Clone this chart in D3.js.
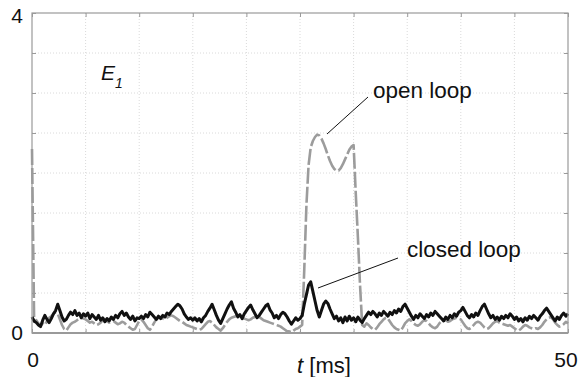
<!DOCTYPE html>
<html>
<head>
<meta charset="utf-8">
<script src="https://cdn.jsdelivr.net/npm/d3@7"></script>
<style>
  html, body { margin: 0; padding: 0; background: #fff; }
  svg { display: block; font-family: "Liberation Sans", Arial, sans-serif; }
</style>
</head>
<body>
<svg id="chart" width="582" height="377"></svg>
<script>
// Time axis: samples every 0.2 ms from 0 to 50 ms
const tStep = 0.2;
const xDomain = [0, 50];
const yDomain = [0, 4];
const xTickLabels = ["0", "50"];
const yTickLabels = ["0", "4"];

// E1 with the closed loop (black trace)
const closedLoop = [
  0.20,0.15,0.13,0.10,0.08,0.16,0.22,0.17,0.13,0.18,0.24,0.28,0.36,0.28,0.20,0.15,0.17,0.22,0.26,0.23,0.28,0.22,0.25,0.19,0.24,
  0.21,0.25,0.18,0.23,0.20,0.17,0.22,0.16,0.19,0.14,0.18,0.15,0.20,0.17,0.22,0.19,0.24,0.27,0.22,0.25,0.20,0.17,0.21,0.15,0.19,
  0.18,0.21,0.18,0.23,0.20,0.26,0.23,0.20,0.17,0.21,0.18,0.22,0.20,0.25,0.23,0.27,0.30,0.33,0.36,0.34,0.30,0.24,0.20,0.17,0.19,
  0.16,0.19,0.15,0.18,0.14,0.19,0.22,0.27,0.31,0.36,0.29,0.22,0.16,0.12,0.18,0.24,0.30,0.35,0.39,0.31,0.26,0.20,0.23,0.18,0.24,
  0.28,0.32,0.35,0.29,0.24,0.19,0.22,0.26,0.30,0.34,0.36,0.29,0.25,0.19,0.22,0.18,0.23,0.26,0.24,0.20,0.15,0.11,0.15,0.19,0.16,
  0.18,0.22,0.36,0.48,0.60,0.64,0.52,0.40,0.28,0.20,0.28,0.36,0.40,0.37,0.30,0.24,0.18,0.21,0.15,0.19,0.13,0.20,0.15,0.21,0.16,
  0.19,0.14,0.20,0.16,0.13,0.18,0.22,0.26,0.23,0.27,0.24,0.20,0.25,0.22,0.27,0.24,0.21,0.26,0.23,0.28,0.25,0.30,0.27,0.33,0.36,
  0.31,0.26,0.21,0.17,0.22,0.19,0.24,0.21,0.18,0.23,0.20,0.25,0.22,0.27,0.24,0.21,0.18,0.15,0.20,0.17,0.22,0.19,0.24,0.21,0.26,
  0.28,0.32,0.27,0.22,0.19,0.23,0.20,0.25,0.22,0.28,0.33,0.36,0.30,0.24,0.19,0.22,0.17,0.20,0.16,0.21,0.18,0.22,0.19,0.24,0.21,
  0.17,0.20,0.15,0.18,0.14,0.19,0.16,0.21,0.18,0.22,0.19,0.16,0.21,0.24,0.28,0.31,0.27,0.23,0.19,0.15,0.20,0.17,0.22,0.25,0.21,0.24
];

// E1 with the open loop (grey dashed trace)
const openLoop = [
  2.30,0.14,0.16,0.12,0.09,0.12,0.10,0.15,0.19,0.21,0.24,0.26,0.24,0.17,0.10,0.05,0.03,0.07,0.11,0.13,0.14,0.16,0.18,0.19,0.18,
  0.17,0.15,0.13,0.14,0.12,0.10,0.11,0.13,0.16,0.17,0.15,0.13,0.14,0.15,0.13,0.11,0.12,0.14,0.13,0.10,0.08,0.06,0.04,0.05,0.10,
  0.15,0.17,0.14,0.10,0.06,0.04,0.08,0.13,0.17,0.19,0.20,0.18,0.17,0.19,0.21,0.22,0.21,0.19,0.17,0.15,0.14,0.12,0.10,0.09,0.08,
  0.07,0.06,0.05,0.04,0.05,0.08,0.11,0.14,0.15,0.13,0.10,0.07,0.05,0.03,0.06,0.10,0.14,0.17,0.19,0.20,0.21,0.22,0.21,0.20,0.18,
  0.17,0.16,0.17,0.19,0.20,0.21,0.20,0.18,0.16,0.15,0.14,0.13,0.12,0.11,0.10,0.09,0.08,0.06,0.04,0.02,0.02,0.01,0.03,0.05,0.06,
  0.08,0.10,0.80,1.60,2.10,2.32,2.40,2.45,2.48,2.47,2.43,2.37,2.30,2.22,2.15,2.09,2.05,2.03,2.03,2.06,2.11,2.17,2.23,2.29,2.33,
  2.35,1.75,1.20,0.60,0.10,0.08,0.12,0.10,0.07,0.05,0.04,0.07,0.11,0.14,0.17,0.19,0.18,0.14,0.10,0.07,0.05,0.04,0.03,0.07,0.12,
  0.15,0.17,0.15,0.12,0.10,0.09,0.11,0.14,0.16,0.15,0.12,0.09,0.07,0.06,0.08,0.12,0.15,0.17,0.16,0.14,0.15,0.17,0.18,0.19,0.18,
  0.17,0.13,0.09,0.06,0.05,0.07,0.10,0.13,0.14,0.13,0.10,0.07,0.05,0.06,0.09,0.12,0.14,0.15,0.13,0.12,0.11,0.10,0.09,0.10,0.08,
  0.06,0.04,0.03,0.05,0.08,0.10,0.09,0.07,0.06,0.05,0.06,0.05,0.07,0.10,0.14,0.17,0.19,0.20,0.17,0.13,0.10,0.08,0.09,0.11,0.14,0.12
];

const margin = { left: 32, right: 14, top: 13, bottom: 44 };
const W = 582, H = 377;
const svg = d3.select("#chart");

const x = d3.scaleLinear().domain(xDomain).range([margin.left, W - margin.right]);
const y = d3.scaleLinear().domain(yDomain).range([H - margin.bottom, margin.top]);

const xGrid = d3.range(0, 50.001, 5);
const yGrid = d3.range(0, 4.001, 0.5);

// dotted grid
const grid = svg.append("g").attr("stroke", "#dadada").attr("stroke-width", 1).attr("stroke-dasharray", "1,2");
grid.selectAll("line.v").data(xGrid.slice(1, -1)).join("line")
  .attr("x1", d => x(d)).attr("x2", d => x(d))
  .attr("y1", y(4)).attr("y2", y(0));
grid.selectAll("line.h").data(yGrid.slice(1, -1)).join("line")
  .attr("y1", d => y(d)).attr("y2", d => y(d))
  .attr("x1", x(0)).attr("x2", x(50));

// traces
const line = d3.line().x((d, i) => x(i * tStep)).y(d => y(d));

svg.append("path").datum(openLoop)
  .attr("fill", "none").attr("stroke", "#9c9c9c").attr("stroke-width", 2.6)
  .attr("stroke-dasharray", "16,3").attr("stroke-linejoin", "round")
  .attr("d", line);

svg.append("path").datum(closedLoop)
  .attr("fill", "none").attr("stroke", "#111").attr("stroke-width", 3)
  .attr("stroke-linejoin", "round")
  .attr("d", line);

// frame with inward ticks
const frame = svg.append("g").attr("fill", "none").attr("stroke", "#9a9a9a");
frame.append("rect")
  .attr("x", x(0)).attr("y", y(4))
  .attr("width", x(50) - x(0)).attr("height", y(0) - y(4))
  .attr("stroke-width", 1.2);
frame.append("line").attr("x1", x(0)).attr("x2", x(50)).attr("y1", y(0)).attr("y2", y(0)).attr("stroke-width", 2);

const axisLeft = d3.axisLeft(y).tickValues(yGrid).tickSize(-4).tickFormat("");
const axisRight = d3.axisRight(y).tickValues(yGrid).tickSize(-4).tickFormat("");
const axisTop = d3.axisTop(x).tickValues(xGrid).tickSize(-4).tickFormat("");
const axisBottom = d3.axisBottom(x).tickValues(xGrid).tickSize(-4).tickFormat("");
[[axisLeft, `translate(${x(0)},0)`], [axisRight, `translate(${x(50)},0)`],
 [axisTop, `translate(0,${y(4)})`], [axisBottom, `translate(0,${y(0)})`]].forEach(([ax, tr]) => {
  const g = svg.append("g").attr("transform", tr).call(ax);
  g.select(".domain").remove();
  g.selectAll(".tick line").attr("stroke", "#9a9a9a");
});

// tick labels
const txt = svg.append("g").attr("fill", "#111").attr("font-size", 21);
txt.append("text").attr("x", x(0) - 9).attr("y", 23).attr("text-anchor", "end").text(yTickLabels[1]);
txt.append("text").attr("x", x(0) - 9).attr("y", 340).attr("text-anchor", "end").text(yTickLabels[0]);
txt.append("text").attr("x", x(0) + 1).attr("y", 367).attr("text-anchor", "middle").text(xTickLabels[0]);
txt.append("text").attr("x", x(50) - 2).attr("y", 367).attr("text-anchor", "middle").text(xTickLabels[1]);

// axis title
const xt = txt.append("text").attr("x", 324).attr("y", 373).attr("text-anchor", "middle").attr("font-size", 22);
xt.append("tspan").attr("font-style", "italic").text("t");
xt.append("tspan").text(" [ms]");

// quantity label
const e1 = txt.append("text").attr("x", 101).attr("y", 80).attr("font-style", "italic").attr("font-size", 21);
e1.append("tspan").text("E");
e1.append("tspan").attr("font-size", 14).attr("dy", 8).text("1");

// annotations with leader lines
svg.append("text").attr("x", 373).attr("y", 98).attr("font-size", 22.5).attr("fill", "#111").text("open loop");
svg.append("line").attr("x1", 368).attr("y1", 97).attr("x2", 327).attr("y2", 134).attr("stroke", "#111").attr("stroke-width", 1);

svg.append("text").attr("x", 407).attr("y", 257).attr("font-size", 22.5).attr("fill", "#111").text("closed loop");
svg.append("line").attr("x1", 398).attr("y1", 258).attr("x2", 318).attr("y2", 288).attr("stroke", "#111").attr("stroke-width", 1);
</script>
</body>
</html>
